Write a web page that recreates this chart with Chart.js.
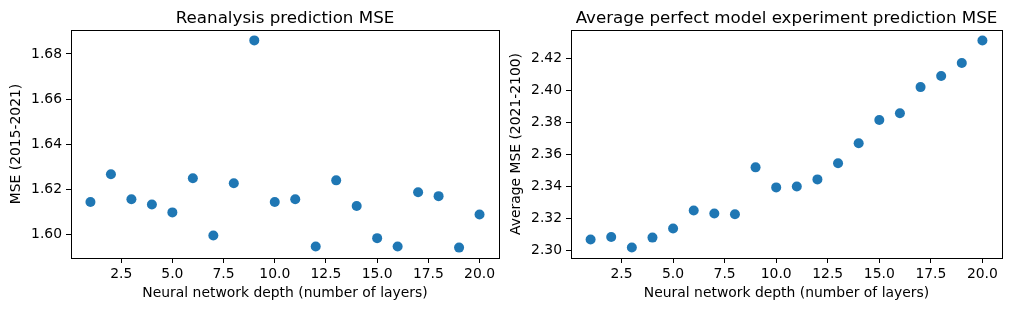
<!DOCTYPE html>
<html>
<head>
<meta charset="utf-8">
<script src="https://cdn.jsdelivr.net/npm/chart.js"></script>
<style>
    html, body { margin: 0; padding: 0; background: #fff; }
    #wrap { position: relative; width: 1011px; height: 311px; }
    .panel { position: absolute; top: 0; height: 311px; }
</style>
</head>
<body>
<div id="wrap">
    <div class="panel" style="left:0; width:505px;"><canvas id="reanalysisChart"></canvas></div>
    <div class="panel" style="left:505px; width:506px;"><canvas id="perfectModelChart"></canvas></div>
</div>
<script>
// Network depths (number of layers)
const depths = [1, 2, 3, 4, 5, 6, 7, 8, 9, 10, 11, 12, 13, 14, 15, 16, 17, 18, 19, 20];

// Reanalysis prediction MSE (2015-2021)
const reanalysisMse = [1.6144, 1.6267, 1.6156, 1.6133, 1.6098, 1.6249, 1.5996, 1.6227, 1.6860, 1.6144,
                       1.6156, 1.5947, 1.6240, 1.6126, 1.5984, 1.5947, 1.6187, 1.6170, 1.5942, 1.6089];

// Average perfect model experiment MSE (2021-2100)
const perfectModelMse = [2.3069, 2.3085, 2.3019, 2.3081, 2.3138, 2.3250, 2.3231, 2.3227, 2.3519, 2.3394,
                         2.3400, 2.3444, 2.3544, 2.3669, 2.3814, 2.3856, 2.4019, 2.4088, 2.4169, 2.4310];

// Tick values
const xTicks = [2.5, 5.0, 7.5, 10.0, 12.5, 15.0, 17.5, 20.0];
const reanalysisTicks = [1.60, 1.62, 1.64, 1.66, 1.68];
const perfectModelTicks = [2.30, 2.32, 2.34, 2.36, 2.38, 2.40, 2.42];

const pointColor = '#1f77b4';
const fontFamily = "'DejaVu Sans', sans-serif";

Chart.defaults.color = '#000';
Chart.defaults.font.family = fontFamily;
Chart.defaults.font.size = 13.9;

// Draws the axes box and a title centred over the plot area
const framePlugin = {
    id: 'frame',
    afterDraw(chart, args, opts) {
        const a = chart.chartArea;
        const ctx = chart.ctx;
        ctx.save();
        ctx.strokeStyle = '#000';
        ctx.lineWidth = 1;
        ctx.strokeRect(Math.round(a.left) + 0.5, Math.round(a.top) + 0.5,
                       Math.round(a.right - a.left), Math.round(a.bottom - a.top));
        ctx.fillStyle = '#000';
        ctx.font = '16.7px ' + fontFamily;
        ctx.textAlign = 'center';
        ctx.textBaseline = 'alphabetic';
        ctx.fillText(opts.text, (a.left + a.right) / 2, a.top - 7);
        ctx.restore();
    }
};

function makeScatter(id, title, values, yTicks, yLabel, yMin, yMax, yWidth, rightPad, yTitlePad) {
    const ctx = document.getElementById(id);
    return new Chart(ctx, {
        type: 'scatter',
        data: {
            datasets: [{
                data: depths.map((d, i) => ({ x: d, y: values[i] })),
                backgroundColor: pointColor,
                borderWidth: 0,
                pointRadius: 5,
                pointHoverRadius: 5
            }]
        },
        options: {
            responsive: true,
            maintainAspectRatio: false,
            animation: false,
            layout: { padding: { top: 30, right: rightPad, left: 0, bottom: 0 } },
            plugins: {
                legend: { display: false },
                tooltip: { enabled: false },
                frame: { text: title }
            },
            scales: {
                x: {
                    type: 'linear',
                    min: 0.05,
                    max: 20.95,
                    border: { display: false },
                    grid: { drawOnChartArea: false, drawTicks: true, tickLength: 5, color: '#000' },
                    afterBuildTicks: function(scale) {
                        scale.ticks = xTicks.map(v => ({ value: v }));
                    },
                    afterFit: function(scale) { scale.height = 53; },
                    ticks: {
                        padding: 3,
                        maxRotation: 0,
                        callback: v => v.toFixed(1)
                    },
                    title: { display: true, text: 'Neural network depth (number of layers)', padding: { top: 2, bottom: 9 } }
                },
                y: {
                    type: 'linear',
                    min: yMin,
                    max: yMax,
                    border: { display: false },
                    grid: { drawOnChartArea: false, drawTicks: true, tickLength: 5, color: '#000' },
                    afterBuildTicks: function(scale) {
                        scale.ticks = yTicks.map(v => ({ value: v }));
                    },
                    afterFit: function(scale) { scale.width = yWidth; },
                    ticks: {
                        padding: 4,
                        callback: v => v.toFixed(2)
                    },
                    title: { display: true, text: yLabel, padding: { top: yTitlePad, bottom: 4 } }
                }
            }
        },
        plugins: [framePlugin]
    });
}

makeScatter('reanalysisChart', 'Reanalysis prediction MSE', reanalysisMse, reanalysisTicks,
            'MSE (2015-2021)', 1.5896, 1.6906, 71, 6, 8.5);
makeScatter('perfectModelChart', 'Average perfect model experiment prediction MSE', perfectModelMse, perfectModelTicks,
            'Average MSE (2021-2100)', 2.2954, 2.4375, 66, 9, 3.5);
</script>
</body>
</html>
